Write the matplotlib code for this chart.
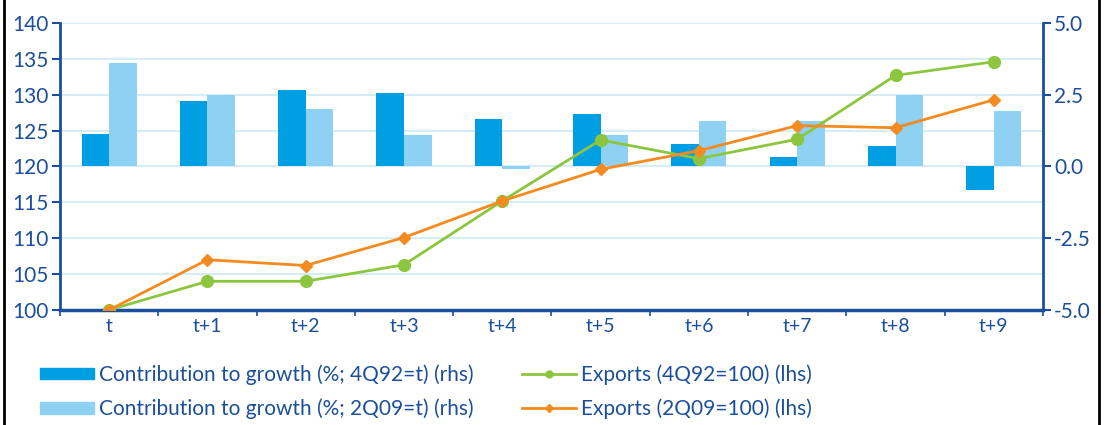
import matplotlib
matplotlib.use("Agg")
import numpy as np
import matplotlib.pyplot as plt
from matplotlib.lines import Line2D
from matplotlib.patches import Patch
from matplotlib.ticker import MultipleLocator, FormatStrFormatter

# data
periods = ['t', 't+1', 't+2', 't+3', 't+4', 't+5', 't+6', 't+7', 't+8', 't+9']
contrib_4q92 = [1.14, 2.27, 2.65, 2.55, 1.67, 1.84, 0.78, 0.34, 0.70, -0.81]
contrib_2q09 = [3.62, 2.48, 1.99, 1.08, -0.10, 1.08, 1.58, 1.60, 2.50, 1.94]
exports_4q92 = [100, 104.0, 104.0, 106.3, 115.2, 123.7, 121.1, 123.8, 132.7, 134.6]
exports_2q09 = [100, 107.0, 106.2, 110.1, 115.2, 119.6, 122.2, 125.7, 125.4, 129.3]

navy = '#1b4f9c'
dark_bar = '#009fe3'
light_bar = '#8ed1f2'
green = '#8cc63f'
orange = '#f58a1f'
grid_col = '#cdeaf8'

plt.rcParams['font.family'] = ['Lato', 'DejaVu Sans']

fig = plt.figure(figsize=(11.09, 4.25), dpi=100)
ax = fig.add_axes([0.054, 0.2706, 0.8865, 0.6753])
axl = ax.twinx()
x = np.arange(len(periods))
w = 0.28

# bars on rhs scale
ax.bar(x - w/2, contrib_4q92, w, color=dark_bar, zorder=2)
ax.bar(x + w/2, contrib_2q09, w, color=light_bar, zorder=2)
ax.set_ylim(-5, 5)
ax.set_xlim(-0.5, len(periods) - 0.5)
ax.yaxis.tick_right()
ax.yaxis.set_label_position('right')
ax.yaxis.set_major_locator(MultipleLocator(2.5))
ax.yaxis.set_minor_locator(MultipleLocator(1.25))
ax.yaxis.set_major_formatter(FormatStrFormatter('%.1f'))
ax.grid(axis='y', which='both', color=grid_col, lw=1.2, zorder=0)
ax.set_axisbelow(True)
ax.tick_params(axis='y', which='major', colors=navy, labelsize=15, length=6, width=1.5, pad=2)
ax.tick_params(axis='y', which='minor', length=0)

ax.set_xticks(x)
ax.set_xticklabels(periods)
ax.set_xticks(np.arange(-0.5, len(periods)), minor=True)
ax.tick_params(axis='x', which='major', length=0, colors=navy, labelsize=14, pad=6)
ax.tick_params(axis='x', which='minor', length=4, width=1.2, color=navy)

for s in ['top', 'left']:
    ax.spines[s].set_visible(False)
ax.spines['right'].set_color(navy)
ax.spines['right'].set_linewidth(2)
ax.spines['bottom'].set_color(navy)
ax.spines['bottom'].set_linewidth(2.5)

# lines on lhs scale
axl.yaxis.tick_left()
axl.yaxis.set_label_position('left')
axl.plot(x, exports_4q92, color=green, lw=2, marker='o', ms=8.5, zorder=3)
axl.plot(x, exports_2q09, color=orange, lw=2, marker='D', ms=6, zorder=4)
axl.set_ylim(100, 140)
axl.yaxis.set_major_locator(MultipleLocator(5))
axl.tick_params(axis='y', colors=navy, labelsize=15, length=6, width=1.5, pad=2)
for s in ['top', 'right', 'bottom']:
    axl.spines[s].set_visible(False)
axl.spines['left'].set_color(navy)
axl.spines['left'].set_linewidth(2)

handles = [
    Patch(color=dark_bar),
    Patch(color=light_bar),
    Line2D([], [], color=green, lw=2, marker='o', ms=5),
    Line2D([], [], color=orange, lw=2, marker='D', ms=4),
]
labels = [
    'Contribution to growth (%; 4Q92=t) (rhs)',
    'Contribution to growth (%; 2Q09=t) (rhs)',
    'Exports (4Q92=100) (lhs)',
    'Exports (2Q09=100) (lhs)',
]
leg = fig.legend(handles, labels, ncol=2, loc='lower left', bbox_to_anchor=(0.019, -0.03),
                 frameon=False, handlelength=2.6, handleheight=0.5, handletextpad=0.25,
                 columnspacing=2.3, labelspacing=0.65,
                 prop={'size': 15})
for t in leg.get_texts():
    t.set_color(navy)

# black side borders of the original panel
fig.add_artist(Line2D([0.004, 0.004], [0, 1], color='black', lw=2, transform=fig.transFigure))
fig.add_artist(Line2D([0.991, 0.991], [0, 1], color='black', lw=2, transform=fig.transFigure))

fig.savefig('out.png', dpi=100)
